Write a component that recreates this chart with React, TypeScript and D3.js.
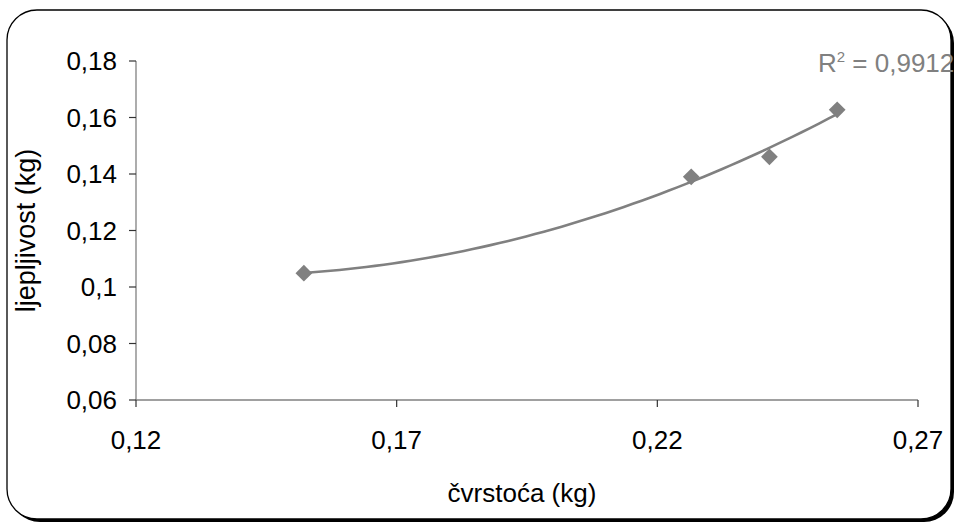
import React from "react";
import * as d3 from "d3";

const xValues = [0.1522, 0.2265, 0.2415, 0.2545];
const yValues = [0.1049, 0.139, 0.1461, 0.1627];
const xTicks = [0.12, 0.17, 0.22, 0.27];
const yTicks = [0.06, 0.08, 0.1, 0.12, 0.14, 0.16, 0.18];
const rSquaredLabel = "0,9912";
const xTitle = "čvrstoća (kg)";
const yTitle = "ljepljivost (kg)";

function quadFit(xs: number[], ys: number[]) {
  // least squares y = a + b x + c x^2
  const n = xs.length;
  let s1 = 0, s2 = 0, s3 = 0, s4 = 0, t0 = 0, t1 = 0, t2 = 0;
  for (let i = 0; i < n; i++) {
    const x = xs[i], y = ys[i];
    s1 += x; s2 += x * x; s3 += x * x * x; s4 += x * x * x * x;
    t0 += y; t1 += x * y; t2 += x * x * y;
  }
  const M = [
    [n, s1, s2, t0],
    [s1, s2, s3, t1],
    [s2, s3, s4, t2],
  ];
  for (let i = 0; i < 3; i++) {
    let p = i;
    for (let r = i + 1; r < 3; r++) if (Math.abs(M[r][i]) > Math.abs(M[p][i])) p = r;
    [M[i], M[p]] = [M[p], M[i]];
    for (let r = 0; r < 3; r++) {
      if (r === i) continue;
      const f = M[r][i] / M[i][i];
      for (let c = i; c < 4; c++) M[r][c] -= f * M[i][c];
    }
  }
  const a = M[0][3] / M[0][0], b = M[1][3] / M[1][1], c = M[2][3] / M[2][2];
  return (x: number) => a + b * x + c * x * x;
}

const fmt = (v: number) => String(+v.toFixed(2)).replace(".", ",");

export default function App() {
  const W = 954, H = 525;
  const left = 136, right = 918, top = 61, bottom = 400;
  const x = d3.scaleLinear().domain([0.12, 0.27]).range([left, right]);
  const y = d3.scaleLinear().domain([0.06, 0.18]).range([bottom, top]);
  const f = quadFit(xValues, yValues);
  const x0 = d3.min(xValues)!, x1 = d3.max(xValues)!;
  const trend = d3.range(0, 61).map((i) => {
    const xv = x0 + ((x1 - x0) * i) / 60;
    return [xv, f(xv)] as [number, number];
  });
  const line = d3.line<[number, number]>().x((d) => x(d[0])).y((d) => y(d[1]));
  const diamond = d3.symbol().type(d3.symbolSquare).size(140)();
  const font = "'Liberation Sans', Arial, sans-serif";
  const gray = "#808080";
  return (
    <svg width={W} height={H} style={{ position: "absolute", left: 0, top: 0, background: "#fff" }} fontFamily={font}>
      <rect x={10} y={13} width={944} height={509} rx={30} ry={30} fill="#000" />
      <rect x={7} y={10} width={944} height={509} rx={30} ry={30} fill="#fff" stroke="#000" strokeWidth={1.3} />
      {/* axes */}
      <line x1={left} x2={left} y1={top} y2={bottom} stroke={gray} strokeWidth={1.3} />
      <line x1={left} x2={right} y1={bottom} y2={bottom} stroke={gray} strokeWidth={1.3} />
      {yTicks.map((t) => (
        <g key={"y" + t}>
          <line x1={left - 7} x2={left} y1={y(t)} y2={y(t)} stroke="#333" strokeWidth={1.2} />
          <text x={117} y={y(t)} dy="0.36em" textAnchor="end" fontSize={26} fill="#000">{fmt(t)}</text>
        </g>
      ))}
      {xTicks.map((t) => (
        <g key={"x" + t}>
          <line x1={x(t)} x2={x(t)} y1={bottom} y2={bottom + 7} stroke="#333" strokeWidth={1.2} />
          <text x={x(t)} y={449} textAnchor="middle" fontSize={26} fill="#000">{fmt(t)}</text>
        </g>
      ))}
      <text x={(left + right) / 2 - 5} y={502} textAnchor="middle" fontSize={26} fill="#000">{xTitle}</text>
      <text transform={`translate(35,${(top + bottom) / 2}) rotate(-90)`} textAnchor="middle" fontSize={27} fill="#000">{yTitle}</text>
      {/* trendline */}
      <path d={line(trend) || ""} fill="none" stroke={gray} strokeWidth={2.6} />
      {xValues.map((xv, i) => (
        <path key={i} d={diamond || ""} transform={`translate(${x(xv)},${y(yValues[i])}) rotate(45)`} fill={gray} />
      ))}
      <text x={818} y={72} fontSize={26} fill={gray}>
        R<tspan fontSize={15} dy={-10}>2</tspan><tspan dy={10}> = {rSquaredLabel}</tspan>
      </text>
    </svg>
  );
}
